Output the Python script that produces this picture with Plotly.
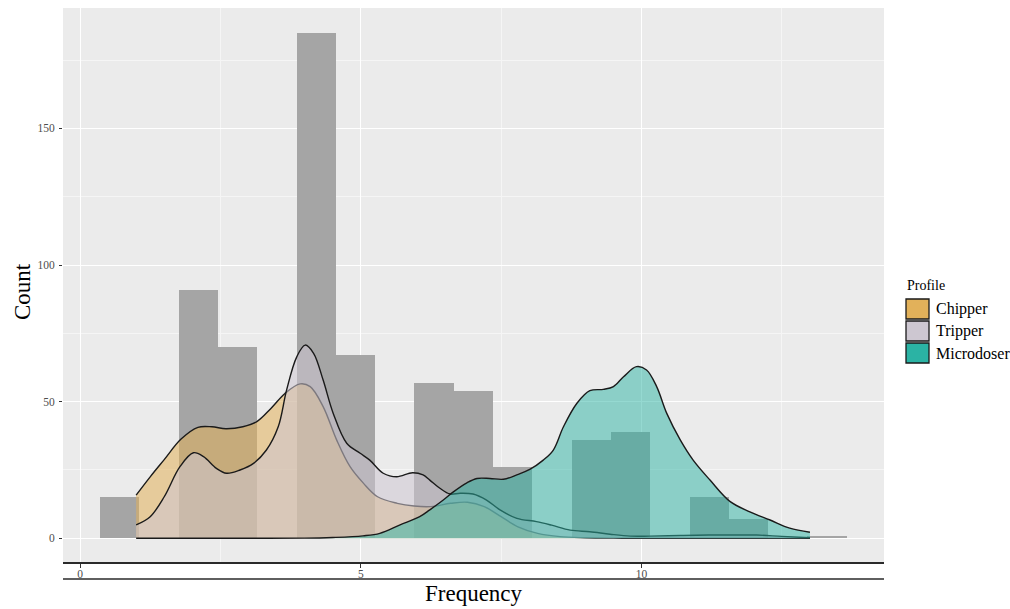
import plotly.graph_objects as go

# ---------------- data ----------------
bin_centers = [0.706, 1.406, 2.106, 2.806, 3.506, 4.206, 4.906, 5.606, 6.306, 7.006,
               7.706, 8.406, 9.106, 9.806, 10.506, 11.206, 11.906, 12.606, 13.306]
bin_counts = [15, 0, 91, 70, 0, 185, 67, 0, 57, 54, 26, 0, 36, 39, 0, 15, 7, 0, 1]
bin_width = 0.7

chipper_x = [1.0, 1.25, 1.5, 1.8, 2.1, 2.35, 2.6, 2.9, 3.15, 3.4, 3.65, 3.92, 4.1, 4.33,
             4.57, 4.81, 5.05, 5.3, 5.65, 5.95, 6.25, 6.6, 6.9, 7.2, 7.5, 7.8, 8.15, 8.55,
             9.0, 9.5, 10.0, 11.0, 12.0, 13.0]
chipper_y = [15.8, 22.5, 28.8, 36.3, 40.6, 40.8, 40.1, 40.8, 42.7, 47.5, 53.0, 56.5, 55.5, 48.2,
             36.0, 26.2, 20.1, 15.2, 12.8, 11.8, 11.6, 12.8, 13.2, 11.6, 7.9, 4.2, 1.8, 0.6,
             0.2, 0.05, 0.0, 0.0, 0.0, 0.0]

tripper_x = [1.0, 1.25, 1.5, 1.78, 2.02, 2.2, 2.43, 2.61, 2.85, 3.09, 3.32, 3.53, 3.68, 3.86,
             4.01, 4.16, 4.33, 4.51, 4.75, 4.99, 5.16, 5.4, 5.64, 5.92, 6.11, 6.23, 6.41, 6.59,
             6.77, 7.0, 7.24, 7.48, 7.78, 8.13, 8.4, 8.73, 9.08, 9.44, 9.8, 10.15, 10.7, 11.2,
             11.6, 12.05, 12.5, 13.0]
tripper_y = [4.9, 7.9, 15.2, 26.2, 31.3, 29.9, 25.6, 23.8, 25.0, 27.4, 32.3, 40.8, 54.3, 66.4,
             70.7, 67.7, 57.9, 45.7, 34.8, 31.1, 28.6, 23.8, 22.5, 24.0, 23.2, 21.3, 18.3, 16.2,
             16.5, 16.2, 14.0, 10.4, 7.3, 6.1, 4.8, 3.0, 2.4, 1.5, 0.8, 0.8, 1.0, 1.2,
             1.2, 1.2, 0.7, 0.2]

micro_x = [1.0, 2.0, 3.0, 4.0, 4.5, 5.04, 5.34, 5.7, 6.05, 6.23, 6.47, 6.65, 6.89, 7.07, 7.3,
           7.54, 7.78, 8.01, 8.25, 8.43, 8.61, 8.85, 9.08, 9.32, 9.5, 9.68, 9.91, 10.09, 10.27,
           10.45, 10.69, 10.92, 11.22, 11.58, 11.93, 12.29, 12.64, 13.0]
micro_y = [0.0, 0.0, 0.0, 0.05, 0.3, 0.9, 1.8, 4.9, 7.9, 10.4, 14.0, 17.0, 20.3, 21.9, 21.9,
           21.6, 23.2, 25.2, 28.6, 32.3, 40.8, 49.4, 54.0, 54.5, 55.5, 59.1, 62.8, 61.6, 55.5,
           45.7, 36.0, 28.6, 21.3, 13.4, 9.7, 6.7, 3.7, 2.2]

profiles = ["Chipper", "Tripper", "Microdoser"]
key_colors = ["#E2B15A", "#CDC7D1", "#2BB3A4"]
fill_colors = ["rgba(226,177,90,0.55)", "rgba(205,199,209,0.55)", "rgba(43,179,164,0.5)"]

x_ticks = [0, 5, 10]
y_ticks = [0, 50, 100, 150]

# ---------------- layout geometry ----------------
W, H = 1010, 609
L, R, T, B = 63, 884, 8, 562   # panel edges in pixels


def px_x(p):
    return (p - L) / (R - L)


def px_y(p):
    return (B - p) / (B - T)


SERIF = "Liberation Serif"

fig = go.Figure()

fig.add_trace(go.Bar(
    x=bin_centers, y=bin_counts, width=bin_width,
    marker=dict(color="#A5A5A5", line=dict(width=0)),
    showlegend=False, hoverinfo="skip"))

for name, xs, ys, fc in zip(profiles, [chipper_x, tripper_x, micro_x],
                            [chipper_y, tripper_y, micro_y], fill_colors):
    fig.add_trace(go.Scatter(
        x=xs, y=ys, name=name, mode="lines", fill="tozeroy", fillcolor=fc,
        line=dict(color="#1a1a1a", width=1.4, shape="spline", smoothing=1.0),
        showlegend=False))

shapes = [dict(type="line", xref="paper", yref="paper", x0=0, x1=1,
               y0=px_y(579), y1=px_y(579), line=dict(color="#2a2a2a", width=1.6))]
annotations = []

# legend (ggplot style)
annotations.append(dict(text="Profile", xref="paper", yref="paper", x=px_x(905), y=px_y(285),
                        xanchor="left", yanchor="middle", showarrow=False,
                        font=dict(family=SERIF, size=14, color="#000000")))
key_tops = [298, 320, 342]
for name, col, top in zip(profiles, key_colors, key_tops):
    shapes.append(dict(type="rect", xref="paper", yref="paper",
                       x0=px_x(906), x1=px_x(929), y0=px_y(top + 21), y1=px_y(top + 1),
                       fillcolor=col, line=dict(color="#1a1a1a", width=1.3)))
    annotations.append(dict(text=name, xref="paper", yref="paper", x=px_x(934),
                            y=px_y(top + 11), xanchor="left", yanchor="middle",
                            showarrow=False, font=dict(family=SERIF, size=16, color="#000000")))

# axis titles
annotations.append(dict(text="Count", xref="paper", yref="paper", x=px_x(22), y=px_y(292),
                        textangle=-90, xanchor="center", yanchor="middle", showarrow=False,
                        font=dict(family=SERIF, size=23, color="#000000")))
annotations.append(dict(text="Frequency", xref="paper", yref="paper", x=0.5, y=px_y(593),
                        xanchor="center", yanchor="middle", showarrow=False,
                        font=dict(family=SERIF, size=23, color="#000000")))

x0v = (L - 80) / 56.15
x1v = (R - 80) / 56.15
y0v = (538.3 - B) / 2.733
y1v = (538.3 - T) / 2.733

fig.update_layout(
    width=W, height=H,
    margin=dict(l=L, r=W - R, t=T, b=H - B, pad=0),
    paper_bgcolor="#FFFFFF", plot_bgcolor="#EBEBEB",
    bargap=0, showlegend=False,
    shapes=shapes, annotations=annotations,
    xaxis=dict(range=[x0v, x1v], tickvals=x_ticks, ticktext=[str(v) for v in x_ticks],
               showgrid=True, gridcolor="#FFFFFF", gridwidth=1.3,
               minor=dict(dtick=2.5, tick0=0, showgrid=True, gridcolor="#F5F5F5", gridwidth=0.7),
               zeroline=False, showline=True, linecolor="#2a2a2a", linewidth=1.6,
               ticks="outside", ticklen=4, tickcolor="#333333", tickwidth=1,
               ticklabelstandoff=-4,
               tickfont=dict(family=SERIF, size=11.5, color="#4D4D4D")),
    yaxis=dict(range=[y0v, y1v], tickvals=y_ticks, ticktext=[str(v) for v in y_ticks],
               showgrid=True, gridcolor="#FFFFFF", gridwidth=1.3,
               minor=dict(dtick=25, tick0=0, showgrid=True, gridcolor="#F5F5F5", gridwidth=0.7),
               zeroline=False, showline=False,
               ticks="outside", ticklen=3, tickcolor="#333333", tickwidth=1,
               ticklabelstandoff=2,
               tickfont=dict(family=SERIF, size=11.5, color="#4D4D4D")),
)

fig.write_html("out.html")
